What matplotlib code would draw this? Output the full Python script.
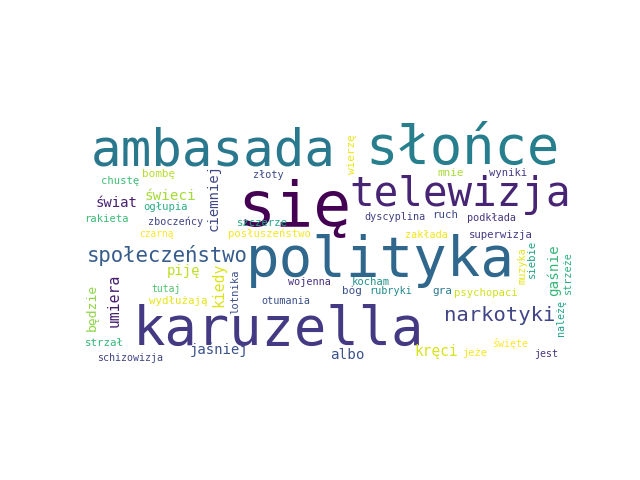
import matplotlib
matplotlib.use("Agg")
import matplotlib.pyplot as plt

# word cloud canvas (same size as the wordcloud default)
CANVAS_W, CANVAS_H = 400, 200

# words in the cloud
words = [
    "ambasada", "słońce", "się", "telewizja", "polityka", "karuzella",
    "społeczeństwo", "narkotyki", "świat", "świeci", "chustę", "bombę",
    "ogłupia", "rakieta", "zboczeńcy", "czarną", "złoty", "szczerze",
    "posłuszeństwo", "mnie", "wyniki", "dyscyplina", "ruch", "podkłada",
    "zakłada", "superwizja", "piję", "tutaj", "wydłużają", "strzał",
    "schizowizja", "jaśniej", "wojenna", "otumania", "kocham", "bóg",
    "rubryki", "gra", "psychopaci", "święte", "jeże", "kręci", "albo", "jest",
    "ciemniej", "wierzę", "kiedy", "lotnika", "umiera", "będzie",
    "muzyka", "siebie", "gaśnie", "strzeże", "należę",
]

# layout: x, y, font size (canvas px), rotation, colour
# horizontal words are anchored on their baseline, vertical ones on their centre
layout = {
    "ambasada":      (107.3, 37.9, 41.0, 0, "#2a788e"),
    "słońce":        (308.1, 37.1, 43.5, 0, "#277f8e"),
    "się":           (173.4, 86.5, 51.0, 0, "#440154"),
    "telewizja":     (306.5, 71.0, 33.0, 0, "#482475"),
    "polityka":      (242.5, 127.4, 45.0, 0, "#30678d"),
    "karuzella":     (159.7, 182.3, 43.5, 0, "#443a83"),
    "społeczeństwo": (70.2, 116.1, 16.6, 0, "#365c8d"),
    "narkotyki":     (338.7, 163.7, 16.5, 0, "#414487"),
    "świat":         (29.8, 71.8, 11.3, 0, "#482173"),
    "świeci":        (72.6, 66.1, 11.5, 0, "#a5db36"),
    "chustę":        (32.3, 53.2, 8.5, 0, "#3fbc73"),
    "bombę":         (63.7, 47.6, 8.9, 0, "#b5de2b"),
    "ogłupia":       (69.4, 74.2, 8.5, 0, "#29af7f"),
    "rakieta":       (21.0, 83.9, 8.5, 0, "#3bbb75"),
    "zboczeńcy":     (77.4, 86.3, 8.2, 0, "#414487"),
    "czarną":        (61.3, 96.0, 7.7, 0, "#fde725"),
    "złoty":         (151.6, 48.4, 8.3, 0, "#3e4a89"),
    "szczerze":      (146.8, 87.1, 8.5, 0, "#22a884"),
    "posłuszeństwo": (152.4, 96.0, 8.5, 0, "#f6e620"),
    "mnie":          (299.2, 46.8, 8.9, 0, "#a8db34"),
    "wyniki":        (345.2, 46.8, 8.5, 0, "#453882"),
    "dyscyplina":    (254.0, 82.3, 8.2, 0, "#424086"),
    "ruch":          (294.4, 80.6, 8.8, 0, "#3e4989"),
    "podkłada":      (331.5, 83.1, 8.2, 0, "#463480"),
    "zakłada":       (279.0, 96.8, 8.2, 0, "#f1e51d"),
    "superwizja":    (339.5, 96.8, 8.6, 0, "#443983"),
    "piję":          (83.1, 126.6, 11.3, 0, "#bddf26"),
    "tutaj":         (69.4, 140.3, 7.9, 0, "#4ec36b"),
    "wydłużają":     (79.0, 150.0, 8.7, 0, "#e7e419"),
    "strzał":        (19.4, 183.9, 8.7, 0, "#34b679"),
    "schizowizja":   (40.3, 196.0, 8.1, 0, "#414487"),
    "jaśniej":       (112.1, 190.3, 11.3, 0, "#3b528b"),
    "wojenna":       (184.7, 134.7, 8.2, 0, "#472f7d"),
    "otumania":      (166.1, 150.0, 8.2, 0, "#3c508b"),
    "kocham":        (234.7, 134.7, 8.5, 0, "#21918c"),
    "bóg":           (219.4, 141.9, 8.9, 0, "#3b528b"),
    "rubryki":       (250.8, 141.9, 8.2, 0, "#238a8d"),
    "gra":           (291.9, 141.9, 8.9, 0, "#2a788e"),
    "psychopaci":    (327.4, 143.5, 8.5, 0, "#d0e11c"),
    "święte":        (346.8, 184.7, 8.1, 0, "#fde725"),
    "jeże":          (318.5, 191.9, 8.4, 0, "#f8e621"),
    "kręci":         (287.1, 191.9, 11.7, 0, "#d8e219"),
    "albo":          (215.3, 194.4, 11.5, 0, "#3b528b"),
    "jest":          (375.8, 192.7, 8.1, 0, "#46327e"),
    "ciemniej":      (107.6, 63.5, 11.3, 90, "#3f4788"),
    "wierzę":        (219.4, 29.0, 8.9, 90, "#ece51b"),
    "kiedy":         (112.1, 134.5, 11.9, 90, "#dde318"),
    "lotnika":       (125.0, 139.5, 8.5, 90, "#3d4e8a"),
    "umiera":        (27.4, 146.5, 11.9, 90, "#481f70"),
    "będzie":        (9.7, 152.0, 10.5, 90, "#8ed645"),
    "muzyka":        (356.5, 119.0, 8.3, 90, "#e5e419"),
    "siebie":        (364.5, 113.5, 8.5, 90, "#20a386"),
    "gaśnie":        (382.3, 122.0, 11.5, 90, "#35b779"),
    "strzeże":       (393.5, 124.0, 8.2, 90, "#2ab07f"),
    "należę":        (387.9, 161.0, 8.1, 90, "#1fa088"),
}

fig, ax = plt.subplots(figsize=(6.4, 4.8), dpi=100)
ax.set_xlim(0, CANVAS_W)
ax.set_ylim(CANVAS_H, 0)
ax.set_aspect("equal")
ax.axis("off")

# canvas px -> points
px_per_unit = fig.get_figwidth() * fig.dpi * ax.get_position().width / CANVAS_W
to_pt = px_per_unit * 72 / fig.dpi

for w in words:
    x, y, fs, rot, col = layout[w]
    if rot == 0:
        ax.text(x, y, w, fontsize=fs * to_pt, color=col, family="DejaVu Sans Mono",
                ha="center", va="baseline")
    else:
        ax.text(x, y, w, fontsize=fs * to_pt, color=col, family="DejaVu Sans Mono",
                ha="center", va="center", rotation=rot)

fig.savefig("out.png", dpi=100)
